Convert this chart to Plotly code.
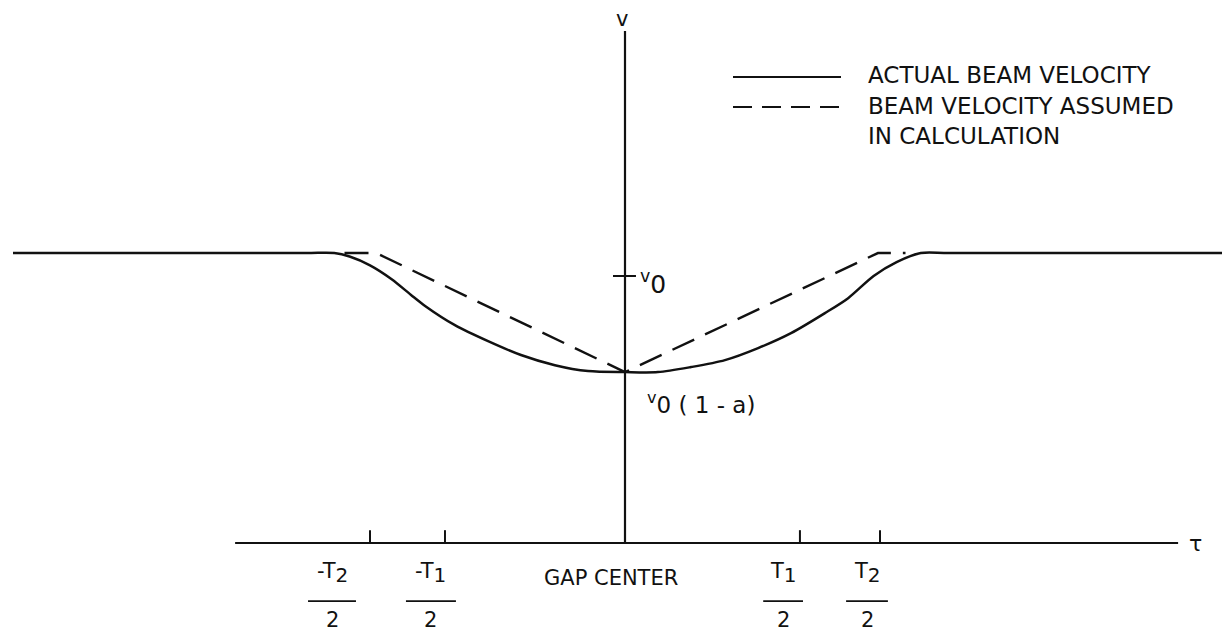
import plotly.graph_objects as go

# beam velocity v / v0 against time tau (tau in units of T2/2)
level = 1.086         # entrance velocity
v_min = 0.640         # v0 (1 - a) at gap center

tau_actual = [-2.40, -1.25, -1.140, -1.080, -1.000, -0.915, -0.839, -0.784, -0.667, -0.537,
              -0.408, -0.275, -0.145, 0.0, 0.129, 0.259, 0.392, 0.522, 0.651,
              0.784, 0.875, 0.975, 1.065, 1.160, 1.27, 2.40]
v_actual = [1.086, 1.086, 1.086, 1.073, 1.040, 0.988, 0.929, 0.888, 0.816, 0.756,
            0.704, 0.666, 0.644, 0.640, 0.640, 0.659, 0.685, 0.730, 0.786,
            0.861, 0.917, 1.000, 1.052, 1.086, 1.086, 1.086]

tau_assumed = [-1.10, -0.976, 0.0, 0.992, 1.10]
v_assumed = [1.086, 1.086, 0.640, 1.086, 1.086]

tick_tau = [-1.0, -0.706, 0.686, 1.0]
tick_num = ["-T", "-T", "T", "T"]
tick_sub = ["2", "1", "1", "2"]
tick_den = ["2", "2", "2", "2"]

series_names = ["ACTUAL BEAM VELOCITY", "BEAM VELOCITY ASSUMED<br>IN CALCULATION"]

W, H = 1230, 630
X0, X1 = -617 / 255, 613 / 255
Y0, Y1 = -95 / 267, 535 / 267

ink = "#111111"
font = "DejaVu Sans"

fig = go.Figure()

# curves
fig.add_trace(go.Scatter(x=tau_actual, y=v_actual, mode="lines", name=series_names[0],
                         line=dict(color=ink, width=2.5, shape="spline", smoothing=0.8)))
fig.add_trace(go.Scatter(x=tau_assumed, y=v_assumed, mode="lines", name=series_names[1],
                         line=dict(color=ink, width=2.4, dash="24px,12px")))

# axes drawn by hand
fig.add_trace(go.Scatter(x=[-1.529, 2.169], y=[0, 0], mode="lines",
                         line=dict(color=ink, width=2), hoverinfo="skip"))
fig.add_trace(go.Scatter(x=[0, 0], y=[0, 1.918], mode="lines",
                         line=dict(color=ink, width=2.2), hoverinfo="skip"))
tx, ty = [], []
for t in tick_tau:
    tx += [t, t, None]
    ty += [0, 0.048, None]
tx += [-0.047, 0.043]
ty += [1.0, 1.0]
fig.add_trace(go.Scatter(x=tx, y=ty, mode="lines", line=dict(color=ink, width=2),
                         hoverinfo="skip"))

ann = []
shapes = []
txt = dict(family=font, size=21, color=ink)

ann.append(dict(x=-0.012, y=1.962, text="v", font=txt))
ann.append(dict(x=2.239, y=0.0, text="τ", font=dict(family=font, size=22, color=ink)))
ann.append(dict(x=0.05, y=0.975, text="<sup>v</sup>0", xanchor="left",
                font=dict(family=font, size=25, color=ink)))
ann.append(dict(x=0.08, y=0.524, text="<sup>v</sup>0 ( 1 - a)", xanchor="left",
                font=dict(family=font, size=23, color=ink)))
ann.append(dict(x=-0.055, y=-0.131, text="GAP CENTER", font=txt))

# fraction labels under the ticks
label_tau = [-1.149, -0.761, 0.620, 0.949]
bar_half = [0.094, 0.098, 0.078, 0.082]
for lt, bh, num, sub, den in zip(label_tau, bar_half, tick_num, tick_sub, tick_den):
    ann.append(dict(x=lt, y=-0.112,
                    text=num + "<sub><span style='font-size:20px'>" + sub + "</span></sub>",
                    font=txt))
    ann.append(dict(x=lt, y=-0.288, text=den, font=txt))
    shapes.append(dict(type="line", xref="x", yref="y", x0=lt - bh, x1=lt + bh,
                       y0=-0.218, y1=-0.218, line=dict(color=ink, width=1.8)))

# legend, drawn by hand
def px(x):
    return x / W

def py(y):
    return 1 - y / H

leg_font = dict(family=font, size=23, color=ink)
shapes.append(dict(type="line", xref="paper", yref="paper", x0=px(725), x1=px(833),
                   y0=py(69), y1=py(69), line=dict(color=ink, width=2)))
shapes.append(dict(type="line", xref="paper", yref="paper", x0=px(725), x1=px(833),
                   y0=py(99), y1=py(99), line=dict(color=ink, width=2, dash="19px,10px")))
ann.append(dict(xref="paper", yref="paper", x=px(858), y=py(67), text=series_names[0],
                xanchor="left", yanchor="middle", font=leg_font))
ann.append(dict(xref="paper", yref="paper", x=px(858), y=py(113), text=series_names[1],
                xanchor="left", yanchor="middle", font=leg_font, align="left"))

for a in ann:
    a.setdefault("xref", "x")
    a.setdefault("yref", "y")
    a["showarrow"] = False

fig.update_layout(
    width=W, height=H,
    margin=dict(l=0, r=0, t=0, b=0),
    paper_bgcolor="white", plot_bgcolor="white",
    showlegend=False,
    xaxis=dict(range=[X0, X1], visible=False),
    yaxis=dict(range=[Y0, Y1], visible=False),
    annotations=ann, shapes=shapes,
)

fig.write_html("out.html")
